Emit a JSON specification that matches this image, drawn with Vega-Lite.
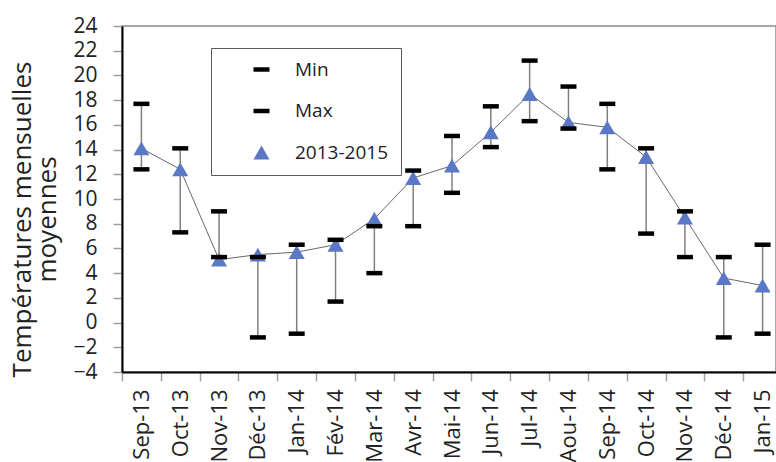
{
  "$schema": "https://vega.github.io/schema/vega-lite/v6.json",
  "width": 654,
  "height": 346,
  "autosize": {"type": "none"},
  "padding": {"left": 122, "top": 26, "right": 0, "bottom": 90},
  "background": "white",
  "config": {
    "view": {"stroke": "#8c8c8c", "strokeWidth": 1.5},
    "font": "Open Sans",
    "axis": {"grid": false},
    "axisY": {
      "title": ["Températures mensuelles", "moyennes"],
      "values": [-4, -2, 0, 2, 4, 6, 8, 10, 12, 14, 16, 18, 20, 22, 24],
      "labelOverlap": false,
      "labelFontSize": 21,
      "labelColor": "#222222",
      "labelPadding": 16,
      "tickSize": 9,
      "tickColor": "#a0a0a0",
      "tickWidth": 1.5,
      "domainColor": "#000000",
      "domainWidth": 2,
      "titleFontSize": 26,
      "titleFontWeight": "normal",
      "titleColor": "#222222",
      "titleLineHeight": 25,
      "titleAngle": -90,
      "titleBaseline": "middle",
      "titleAlign": "center",
      "titleX": -100,
      "titleY": 193
    },
    "legend": {
      "orient": "none",
      "legendX": 89,
      "legendY": 22,
      "direction": "vertical",
      "strokeColor": "#595959",
      "fillColor": "white",
      "padding": 12,
      "labelFontSize": 19,
      "labelColor": "#222222",
      "labelFont": "Open Sans",
      "rowPadding": 21.5,
      "symbolSize": 256,
      "symbolOffset": 29,
      "labelOffset": 24
    }
  },
  "data": {
    "values": [
      {"month": "Sep-13", "Min": 12.4, "Max": 17.7, "2013-2015": 14.1},
      {"month": "Oct-13", "Min": 7.3, "Max": 14.1, "2013-2015": 12.4},
      {"month": "Nov-13", "Min": 5.3, "Max": 9.0, "2013-2015": 5.1},
      {"month": "Déc-13", "Min": -1.2, "Max": 5.3, "2013-2015": 5.5},
      {"month": "Jan-14", "Min": -0.9, "Max": 6.3, "2013-2015": 5.7},
      {"month": "Fév-14", "Min": 1.7, "Max": 6.7, "2013-2015": 6.3},
      {"month": "Mar-14", "Min": 4.0, "Max": 7.8, "2013-2015": 8.4},
      {"month": "Avr-14", "Min": 7.8, "Max": 12.3, "2013-2015": 11.7},
      {"month": "Mai-14", "Min": 10.5, "Max": 15.1, "2013-2015": 12.7},
      {"month": "Jun-14", "Min": 14.2, "Max": 17.5, "2013-2015": 15.4},
      {"month": "Jul-14", "Min": 16.3, "Max": 21.2, "2013-2015": 18.5},
      {"month": "Aou-14", "Min": 15.7, "Max": 19.1, "2013-2015": 16.2},
      {"month": "Sep-14", "Min": 12.4, "Max": 17.7, "2013-2015": 15.8},
      {"month": "Oct-14", "Min": 7.2, "Max": 14.1, "2013-2015": 13.4},
      {"month": "Nov-14", "Min": 5.3, "Max": 9.0, "2013-2015": 8.5},
      {"month": "Déc-14", "Min": -1.2, "Max": 5.3, "2013-2015": 3.6},
      {"month": "Jan-15", "Min": -0.9, "Max": 6.3, "2013-2015": 3.0}
    ]
  },
  "encoding": {
    "x": {
      "field": "month",
      "type": "nominal",
      "sort": null,
      "scale": {"range": [0, 660], "paddingInner": 0, "paddingOuter": 0},
      "axis": {
        "title": null,
        "labelAngle": -90,
        "labelFontSize": 22,
        "labelColor": "#222222",
        "labelPadding": 8,
        "labelOverlap": false,
        "labelLimit": 200,
        "tickBand": "extent",
        "tickSize": 9,
        "tickColor": "#a0a0a0",
        "tickWidth": 1.5,
        "domainColor": "#000000",
        "domainWidth": 2
      }
    }
  },
  "layer": [
    {
      "mark": {"type": "rule", "color": "#808080", "strokeWidth": 1.5},
      "encoding": {
        "y": {
          "field": "Min",
          "type": "quantitative",
          "title": ["Températures mensuelles", "moyennes"],
          "scale": {"domain": [-4, 24], "nice": false, "zero": false}
        },
        "y2": {"field": "Max"}
      }
    },
    {
      "mark": {"type": "line", "color": "#404040", "strokeWidth": 0.8},
      "encoding": {
        "y": {
          "field": "2013-2015",
          "type": "quantitative",
          "title": ["Températures mensuelles", "moyennes"],
          "scale": {"domain": [-4, 24], "nice": false, "zero": false}
        }
      }
    },
    {
      "transform": [{"fold": ["2013-2015", "Min", "Max"], "as": ["series", "value"]}],
      "mark": {"type": "point", "filled": true, "opacity": 1, "size": 256},
      "encoding": {
        "y": {
          "field": "value",
          "type": "quantitative",
          "title": ["Températures mensuelles", "moyennes"],
          "scale": {"domain": [-4, 24], "nice": false, "zero": false}
        },
        "shape": {
          "field": "series",
          "type": "nominal",
          "scale": {
            "domain": ["Min", "Max", "2013-2015"],
            "range": ["M-1,-0.28H1V0.28H-1Z", "M-1,-0.28H1V0.28H-1Z", "triangle-up"]
          },
          "legend": {"title": null}
        },
        "color": {
          "field": "series",
          "type": "nominal",
          "scale": {
            "domain": ["Min", "Max", "2013-2015"],
            "range": ["#000000", "#000000", "#5a78c6"]
          },
          "legend": {"title": null}
        }
      }
    }
  ]
}
